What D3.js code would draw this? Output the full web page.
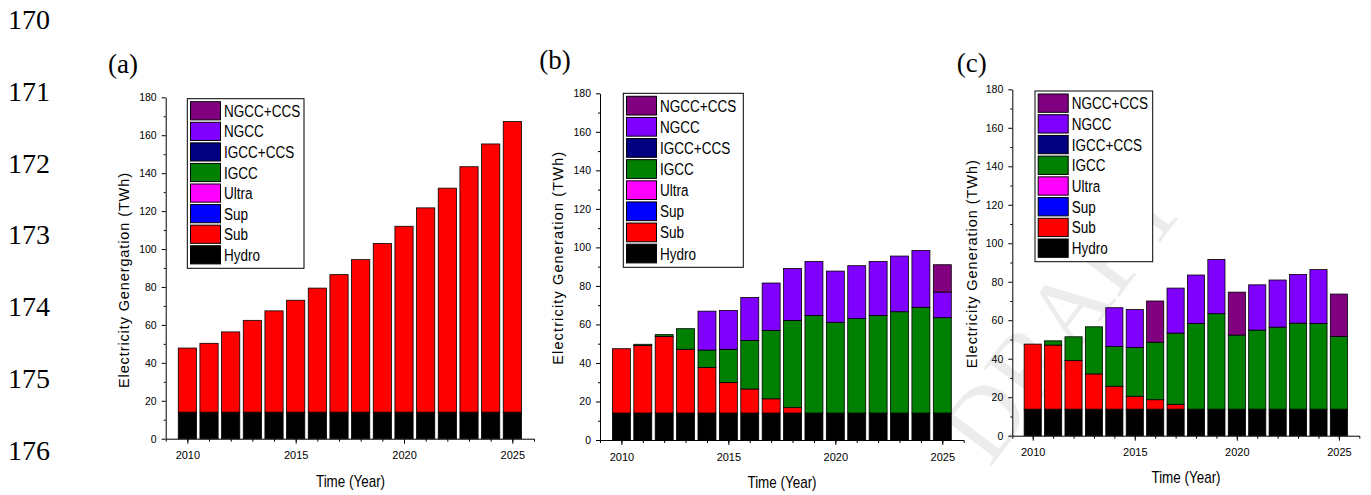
<html>
<head>
<style>
  body { margin: 0; background: #fff; }
  svg { display: block; }
</style>
</head>
<body>
<script src="https://cdn.jsdelivr.net/npm/d3@7/dist/d3.min.js"></script>
<script>
const years = [2010, 2011, 2012, 2013, 2014, 2015, 2016, 2017, 2018, 2019, 2020, 2021, 2022, 2023, 2024, 2025];
const keys = ["Hydro", "Sub", "Sup", "Ultra", "IGCC", "IGCC+CCS", "NGCC", "NGCC+CCS"];
const colors = ["#000000", "#ff0000", "#0000ff", "#ff00ff", "#008000", "#000080", "#8000ff", "#800080"];
const yTicks = [0, 20, 40, 60, 80, 100, 120, 140, 160, 180];
const yMinor = [10, 30, 50, 70, 90, 110, 130, 150, 170];
const xTicks = [2010, 2015, 2020, 2025];
const lineNumbers = ["170", "171", "172", "173", "174", "175", "176"];
const zeros = [0, 0, 0, 0, 0, 0, 0, 0, 0, 0, 0, 0, 0, 0, 0, 0];

// (a)
const hydroA = [14, 14, 14, 14, 14, 14, 14, 14, 14, 14, 14, 14, 14, 14, 14, 14];
const subA = [33.8, 36.3, 42.3, 48.4, 53.4, 59, 65.4, 72.5, 80.4, 88.9, 98, 107.7, 118.1, 129.4, 141.4, 153.2];

// (b)
const hydroB = [14, 14, 14, 14, 14, 14, 14, 14, 14, 14, 14, 14, 14, 14, 14, 14];
const subB = [33.4, 35.1, 39.8, 33.1, 23.7, 15.9, 12.5, 7.4, 2.8, 0, 0, 0, 0, 0, 0, 0];
const igccB = [0, 0.6, 0.9, 10.7, 9.0, 17.2, 25.2, 35.5, 45.3, 50.7, 47.1, 49.1, 50.7, 52.6, 54.9, 49.5];
const ngccB = [0, 0, 0, 0, 20.2, 20.2, 22.3, 24.6, 27.0, 28.0, 26.6, 27.4, 28.0, 28.9, 29.5, 13.3];
const ngccCcsB = [0, 0, 0, 0, 0, 0, 0, 0, 0, 0, 0, 0, 0, 0, 0, 14.2];

// (c)
const hydroC = [13.8, 13.8, 13.8, 13.8, 13.8, 13.8, 13.8, 13.8, 13.8, 13.8, 13.8, 13.8, 13.8, 13.8, 13.8, 13.8];
const subC = [33.8, 33.3, 25.2, 18.3, 11.9, 6.7, 4.9, 2.5, 0, 0, 0, 0, 0, 0, 0, 0];
const igccC = [0, 2.2, 12.4, 24.5, 20.6, 25.3, 29.9, 37.0, 44.5, 49.6, 38.5, 41.1, 42.6, 44.7, 44.5, 37.7];
const ngccC = [0, 0, 0, 0, 20.2, 19.8, 0, 23.4, 25.2, 28.2, 0, 23.5, 24.5, 25.3, 28.0, 0];
const ngccCcsC = [0, 0, 0, 0, 0, 0, 21.4, 0, 0, 0, 22.3, 0, 0, 0, 0, 22.1];

const panels = [
  { label: "(a)", yTitle: "Electricity Genergation (TWh)",
    series: [hydroA, subA, zeros, zeros, zeros, zeros, zeros, zeros] },
  { label: "(b)", yTitle: "Electricity Generation (TWh)",
    series: [hydroB, subB, zeros, zeros, igccB, zeros, ngccB, ngccCcsB] },
  { label: "(c)", yTitle: "Electricity Generation (TWh)",
    series: [hydroC, subC, zeros, zeros, igccC, zeros, ngccC, ngccCcsC] }
];

// where each panel sits on the page
const layout = [
  { left: 165.7, right: 534, top: 97.3, bottom: 438.7, labelX: 108, labelY: 73,
    titleX: 124, titleY: 280.5, titleLen: 215, timeX: 350.5, timeY: 486.5,
    legend: { x: 187.3, y: 98.7, w: 116.7, h: 169.6 } },
  { left: 600, right: 963.7, top: 93.3, bottom: 440, labelX: 539.3, labelY: 68.5,
    titleX: 558.3, titleY: 258.3, titleLen: 213, timeX: 782, timeY: 488,
    legend: { x: 623.3, y: 93.3, w: 120, h: 174 } },
  { left: 1012.3, right: 1359.3, top: 89.3, bottom: 435.7, labelX: 956.7, labelY: 72,
    titleX: 971.7, titleY: 264.2, titleLen: 208, timeX: 1186, timeY: 483,
    legend: { x: 1035, y: 91, w: 117.7, h: 170.7 } }
];

const sans = "'Liberation Sans', Arial, Helvetica, sans-serif";
const serif = "'Liberation Serif', 'Times New Roman', serif";

const svg = d3.select("body").append("svg")
  .attr("width", 1371)
  .attr("height", 495);

// line numbers down the left margin
svg.append("g").selectAll("text")
  .data(lineNumbers)
  .join("text")
  .attr("x", 8)
  .attr("y", (d, i) => 29 + i * 71.8)
  .attr("font-family", serif)
  .attr("font-size", 28)
  .text(d => d);

// faint watermark behind panel (c)
svg.append("text")
  .attr("transform", "translate(990,468) rotate(-53)")
  .attr("font-family", serif)
  .attr("font-size", 100)
  .attr("fill", "#ececec")
  .text("DRAFT");

function drawPanel(p, L) {
  const x = d3.scaleLinear().domain([2009, 2026]).range([L.left, L.right]);
  const y = d3.scaleLinear().domain([0, 180]).range([L.bottom, L.top]);
  const g = svg.append("g");

  const rows = years.map((yr, i) => {
    const r = { year: yr };
    keys.forEach((k, j) => { r[k] = p.series[j][i]; });
    return r;
  });
  const stacked = d3.stack().keys(keys)(rows);
  const bw = (x(2011) - x(2010)) * 0.84;

  g.append("g").selectAll("g")
    .data(stacked)
    .join("g")
    .attr("fill", (d, i) => colors[i])
    .selectAll("rect")
    .data(d => d.filter(v => v[1] - v[0] > 0))
    .join("rect")
    .attr("x", d => x(d.data.year) - bw / 2)
    .attr("width", bw)
    .attr("y", d => y(d[1]))
    .attr("height", d => y(d[0]) - y(d[1]))
    .attr("stroke", "#000")
    .attr("stroke-width", 0.8);

  // y axis
  const ya = g.append("g")
    .attr("transform", `translate(${L.left},0)`)
    .call(d3.axisLeft(y).tickValues(yTicks).tickSize(4).tickSizeOuter(0).tickPadding(5));
  ya.attr("font-family", sans).attr("font-size", 10.5);
  g.append("g")
    .attr("transform", `translate(${L.left},0)`)
    .call(d3.axisLeft(y).tickValues(yMinor).tickSize(2).tickFormat(""))
    .select(".domain").remove();

  // x axis
  const xa = g.append("g")
    .attr("transform", `translate(0,${L.bottom})`)
    .call(d3.axisBottom(x).tickValues(xTicks).tickFormat(d3.format("d"))
      .tickSize(5).tickSizeOuter(3).tickPadding(8));
  xa.attr("font-family", sans).attr("font-size", 11);
  g.append("g")
    .attr("transform", `translate(0,${L.bottom})`)
    .call(d3.axisBottom(x).tickValues(years).tickSize(3).tickFormat(""))
    .select(".domain").remove();

  g.selectAll(".domain, .tick line").attr("stroke", "#000").attr("stroke-width", 1);

  // titles
  g.append("text")
    .attr("transform", `translate(${L.titleX},${L.titleY}) rotate(-90)`)
    .attr("text-anchor", "middle")
    .attr("dy", "0.35em")
    .attr("font-family", sans)
    .attr("font-size", 14.5)
    .attr("textLength", L.titleLen)
    .attr("lengthAdjust", "spacing")
    .text(p.yTitle);

  g.append("text")
    .attr("transform", `translate(${L.timeX},${L.timeY}) scale(0.84,1)`)
    .attr("text-anchor", "middle")
    .attr("font-family", sans)
    .attr("font-size", 16)
    .text("Time (Year)");

  g.append("text")
    .attr("x", L.labelX)
    .attr("y", L.labelY)
    .attr("font-family", serif)
    .attr("font-size", 27)
    .text(p.label);

  // legend, top entry first
  const lg = L.legend;
  const legend = g.append("g");
  legend.append("rect")
    .attr("x", lg.x).attr("y", lg.y)
    .attr("width", lg.w).attr("height", lg.h)
    .attr("fill", "#fff").attr("stroke", "#000").attr("stroke-width", 1);
  const pitch = (lg.h - 5) / keys.length;
  const order = keys.map((k, i) => i).reverse();
  const item = legend.selectAll("g.item")
    .data(order)
    .join("g")
    .attr("transform", (d, i) => `translate(${lg.x + 3.2},${lg.y + 3 + i * pitch})`);
  item.append("rect")
    .attr("width", 30)
    .attr("height", pitch - 2.4)
    .attr("fill", d => colors[d])
    .attr("stroke", "#000")
    .attr("stroke-width", 1);
  item.append("text")
    .attr("transform", `translate(33.5,${pitch / 2 + 4.8}) scale(0.82,1)`)
    .attr("font-family", sans)
    .attr("font-size", 16.5)
    .text(d => keys[d]);
}

panels.forEach((p, i) => drawPanel(p, layout[i]));
</script>
</body>
</html>
